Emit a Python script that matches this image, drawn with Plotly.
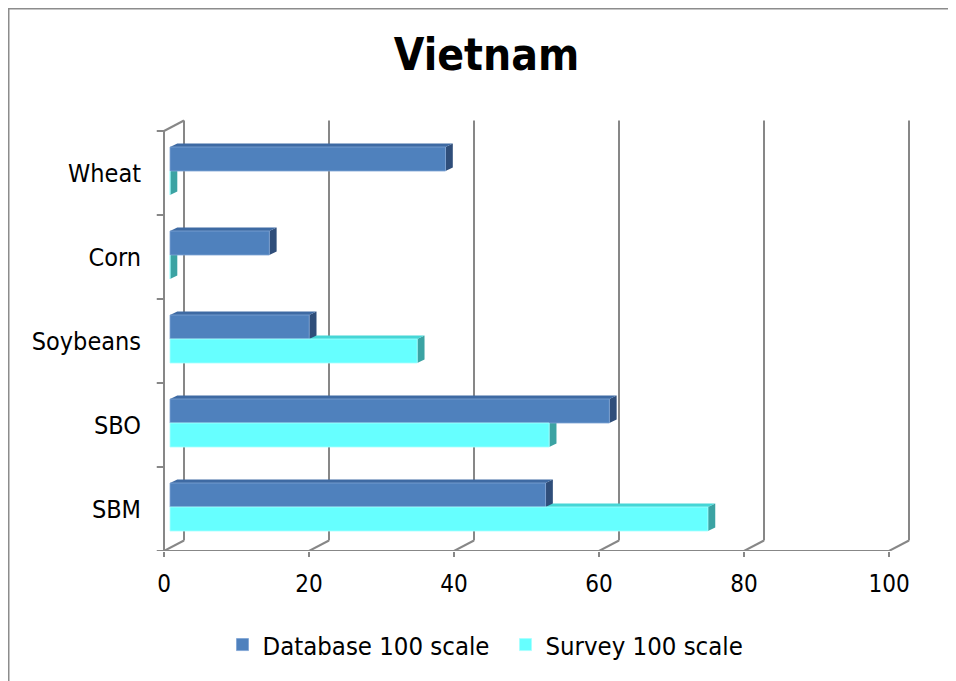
import plotly.graph_objects as go

# ---------------- data ----------------
categories = ["Wheat", "Corn", "Soybeans", "SBO", "SBM"]
database = [38, 13.7, 19.2, 60.6, 51.8]
survey = [0, 0, 34.1, 52.3, 74.2]
x_ticks = [0, 20, 40, 60, 80, 100]
series_names = ["Database 100 scale", "Survey 100 scale"]

# ---------------- geometry (figure pixel coords; page adds 8px body margin) ----------------
W, H = 956, 681
L, R, T, B = 142, 44, 107, 138
pw, ph = W - L - R, H - T - B
px_x, x0_px = 7.25, 156          # px per unit, pixel of front zero
px_y = 84                        # px per category
xr = [(L - x0_px) / px_x, (L + pw - x0_px) / px_x]
yr = [-0.5, -0.5 + ph / px_y]

# bars sit a little deeper than the front plane
bx, by = 6 / px_x, 2 / px_y
x2r = [xr[0] - bx, xr[1] - bx]
y2r = [yr[0] - by, yr[1] - by]

# depth of a bar (3D faces) and of the back wall
dxu, dyu = 7.3 / px_x, 3.6 / px_y
dbx, dby = 20 / px_x, 10.5 / px_y

n = len(categories)
pos = [n - 1 - i for i in range(n)]
h = 24 / px_y

DB_C, DB_TOP, DB_SIDE = "#4F81BD", "#3E6AA3", "#2F4E7A"
SV_C, SV_TOP, SV_SIDE = "#66FFFF", "#45D6D6", "#3BA3A3"
GRID = "#878787"
FONT = "DejaVu Sans Condensed, DejaVu Sans"

fig = go.Figure()
db_y = [p + h / 2 for p in pos]
sv_y = [p - h / 2 for p in pos]

fig.add_trace(go.Bar(orientation="h", x=database, y=db_y, width=h, name=series_names[0],
                     marker=dict(color=DB_C, line=dict(color="#7EA3D4", width=0.8)),
                     xaxis="x2", yaxis="y2"))
fig.add_trace(go.Bar(orientation="h", x=survey, y=sv_y, width=h, name=series_names[1],
                     marker=dict(color=SV_C, line=dict(color="#A8FFFF", width=0.8)),
                     xaxis="x2", yaxis="y2"))

shapes = []

def line(x0, y0, x1, y1):
    shapes.append(dict(type="line", xref="x", yref="y", x0=x0, y0=y0, x1=x1, y1=y1,
                       line=dict(color=GRID, width=2), layer="below"))

# back wall gridlines and floor diagonals
top = n - 0.5
for k in x_ticks:
    line(k + dbx, -0.5 + dby, k + dbx, top + dby)
    line(k, -0.5, k + dbx, -0.5 + dby)
# left wall front edge + top diagonal
line(0, -0.5, 0, top)
line(0, top, dbx, top + dby)
# front floor line
line(0, -0.5, x_ticks[-1], -0.5)
# left category ticks
for i in range(n + 1):
    line(-1.0, -0.5 + i, 0, -0.5 + i)

def poly(pts, color):
    path = "M " + " L ".join(f"{x},{y}" for x, y in pts) + " Z"
    shapes.append(dict(type="path", xref="x2", yref="y2", path=path,
                       fillcolor=color, line=dict(width=0), layer="below"))

for i in range(n):
    p = pos[i]
    # survey bar faces
    v = survey[i]
    yb, yt = p - h, p
    poly([(v, yb), (v, yt), (v + dxu, yt + dyu), (v + dxu, yb + dyu)], SV_SIDE)
    if v > 0:
        poly([(0, yt), (v, yt), (v + dxu, yt + dyu), (dxu, yt + dyu)], SV_TOP)
    # database bar faces
    v = database[i]
    yb, yt = p, p + h
    poly([(v, yb), (v, yt), (v + dxu, yt + dyu), (v + dxu, yb + dyu)], DB_SIDE)
    poly([(0, yt), (v, yt), (v + dxu, yt + dyu), (dxu, yt + dyu)], DB_TOP)

# outer chart frame
shapes.append(dict(type="rect", xref="paper", yref="paper",
                   x0=(0.5 - L) / pw, x1=(W + 10 - L) / pw,
                   y0=(H - B - (H + 10)) / ph, y1=(H - B - 0.5) / ph,
                   line=dict(color="#8C8C8C", width=2), fillcolor="rgba(0,0,0,0)", layer="below"))

fig.update_layout(
    width=W, height=H,
    margin=dict(l=L, r=R, t=T, b=B),
    paper_bgcolor="white", plot_bgcolor="white",
    barmode="overlay",
    shapes=shapes,
    title=dict(text="<b>Vietnam</b>", font=dict(family=FONT, size=44, color="black"),
               x=478.5 / W, xanchor="center", y=1 - 47 / H, yanchor="middle"),
    font=dict(family=FONT, size=25, color="black"),
    xaxis=dict(range=xr, tickvals=x_ticks, ticktext=[str(t) for t in x_ticks],
               ticks="outside", ticklen=5, tickwidth=2, tickcolor=GRID,
               showgrid=False, zeroline=False, showline=False,
               tickfont=dict(family=FONT, size=24, color="black"), ticklabelstandoff=6),
    yaxis=dict(range=yr, tickvals=pos, ticktext=categories, ticks="",
               showgrid=False, zeroline=False, showline=False,
               tickfont=dict(family=FONT, size=25, color="black"), ticklabelstandoff=8),
    xaxis2=dict(range=x2r, overlaying="x", anchor="y2", visible=False),
    yaxis2=dict(range=y2r, overlaying="y", anchor="x2", visible=False),
    legend=dict(orientation="h", x=(497.5 - L) / pw, xanchor="center",
                y=(H - B - 637) / ph, yanchor="middle",
                font=dict(family=FONT, size=25.5, color="black"),
                itemwidth=30, entrywidth=238, entrywidthmode="pixels",
                bgcolor="rgba(0,0,0,0)"),
    showlegend=True,
)

fig.write_html("out.html")
